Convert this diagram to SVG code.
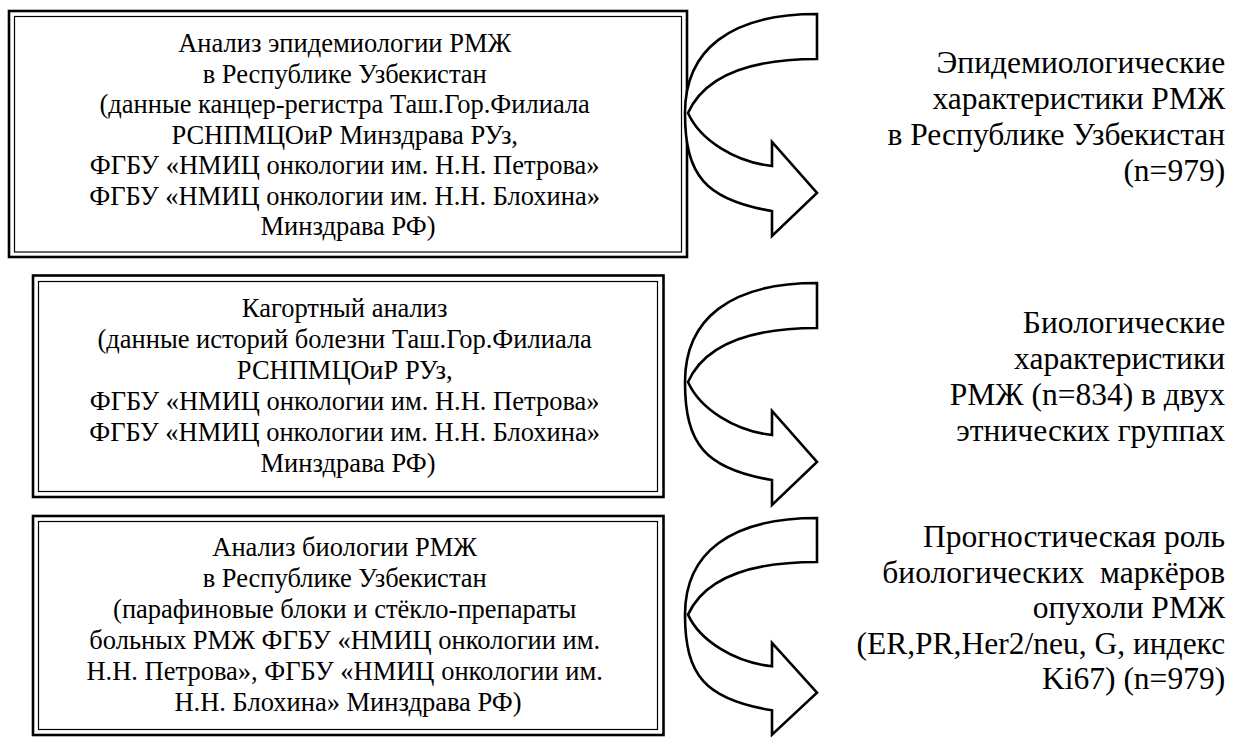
<svg xmlns="http://www.w3.org/2000/svg" width="1239" height="737" viewBox="0 0 1239 737">
<style>
.outer{fill:none;stroke:#000;stroke-width:2.6}
.inner{fill:none;stroke:#000;stroke-width:1.2}
.arrow{fill:#fff;stroke:#000;stroke-width:2.6;stroke-linejoin:miter}
.bt{font-family:'Liberation Serif','Times New Roman',serif;font-size:26.5px;fill:#000;text-anchor:middle}
.rt{font-family:'Liberation Serif','Times New Roman',serif;font-size:31.5px;fill:#000;text-anchor:end;white-space:pre}
</style>
<defs>
<path id="carrow" class="arrow" d="M817,14 L817,59 C750,59 705,75 688,113 C700,140 735,162 772,166 L772,142 L817,193 L772,236 L772,211 C705,200 685,175 685,113 C685,50 730,14 817,14 Z"/>
</defs>
<rect width="1239" height="737" fill="#fff"/>
<g id="box1">
<rect class="outer" x="9" y="11" width="678" height="246"/>
<rect class="inner" x="14.5" y="16.5" width="667" height="235.5"/>
<text class="bt">
<tspan x="348" y="52">Анализ эпидемиологии РМЖ</tspan>
<tspan x="348" y="82.5">в Республике Узбекистан</tspan>
<tspan x="348" y="113">(данные канцер-регистра Таш.Гор.Филиала</tspan>
<tspan x="348" y="143.5">РСНПМЦОиР Минздрава РУз,</tspan>
<tspan x="348" y="174">ФГБУ «НМИЦ онкологии им. Н.Н. Петрова»</tspan>
<tspan x="348" y="204.5">ФГБУ «НМИЦ онкологии им. Н.Н. Блохина»</tspan>
<tspan x="348" y="235">Минздрава РФ)</tspan>
</text>
</g>
<g id="box2">
<rect class="outer" x="33" y="275.5" width="630.5" height="221.5"/>
<rect class="inner" x="38.5" y="281.5" width="619" height="210"/>
<text class="bt">
<tspan x="348" y="317">Кагортный анализ</tspan>
<tspan x="348" y="348">(данные историй болезни Таш.Гор.Филиала</tspan>
<tspan x="348" y="379">РСНПМЦОиР РУз,</tspan>
<tspan x="348" y="410">ФГБУ «НМИЦ онкологии им. Н.Н. Петрова»</tspan>
<tspan x="348" y="441">ФГБУ «НМИЦ онкологии им. Н.Н. Блохина»</tspan>
<tspan x="348" y="472">Минздрава РФ)</tspan>
</text>
</g>
<g id="box3">
<rect class="outer" x="33" y="516" width="630.5" height="219"/>
<rect class="inner" x="38.5" y="521.5" width="619" height="208"/>
<text class="bt">
<tspan x="348" y="556">Анализ биологии РМЖ</tspan>
<tspan x="348" y="587">в Республике Узбекистан</tspan>
<tspan x="348" y="618">(парафиновые блоки и стёкло-препараты</tspan>
<tspan x="348" y="649">больных РМЖ ФГБУ «НМИЦ онкологии им.</tspan>
<tspan x="348" y="680">Н.Н. Петрова», ФГБУ «НМИЦ онкологии им.</tspan>
<tspan x="348" y="711">Н.Н. Блохина» Минздрава РФ)</tspan>
</text>
</g>
<g id="connectors">
<use href="#carrow"/>
<use href="#carrow" transform="translate(0,269)"/>
<use href="#carrow" transform="translate(0,518) scale(1,0.976) translate(0,-14)"/>
</g>
<g id="result1">
<text class="rt">
<tspan x="1233" y="73">Эпидемиологические</tspan>
<tspan x="1233" y="109">характеристики РМЖ</tspan>
<tspan x="1233" y="145">в Республике Узбекистан</tspan>
<tspan x="1233" y="181">(n=979)</tspan>
</text>
</g>
<g id="result2">
<text class="rt">
<tspan x="1233" y="333">Биологические</tspan>
<tspan x="1233" y="369">характеристики</tspan>
<tspan x="1233" y="405">РМЖ (n=834) в двух</tspan>
<tspan x="1233" y="441">этнических группах</tspan>
</text>
</g>
<g id="result3">
<text class="rt">
<tspan x="1233" y="547">Прогностическая роль</tspan>
<tspan x="1233" y="582.5">биологических  маркёров</tspan>
<tspan x="1233" y="618">опухоли РМЖ</tspan>
<tspan x="1233" y="653.5">(ER,PR,Her2/neu, G, индекс</tspan>
<tspan x="1233" y="689">Ki67) (n=979)</tspan>
</text>
</g>
</svg>
